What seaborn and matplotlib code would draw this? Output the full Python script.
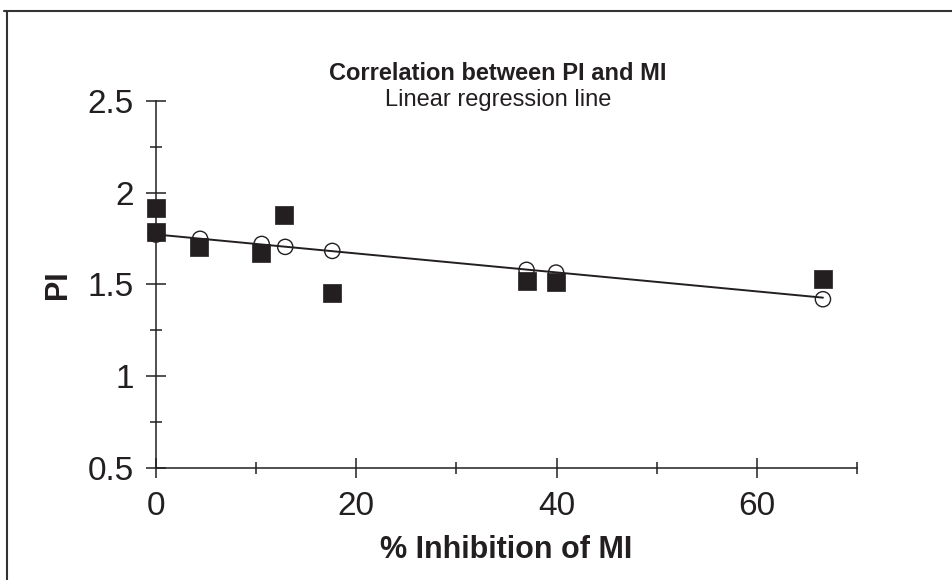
import matplotlib
matplotlib.use("Agg")
import matplotlib.pyplot as plt
from matplotlib.ticker import MultipleLocator
from matplotlib.lines import Line2D
import seaborn as sns
import pandas as pd

# Observed values (filled squares)
inhibition = [0.0, 0.0, 4.3, 10.5, 12.8, 17.6, 37.0, 39.95, 66.6]
pi_observed = [1.915, 1.787, 1.702, 1.670, 1.878, 1.455, 1.520, 1.512, 1.530]

# Fitted values on regression line (open circles)
inhibition_fit = [0.0, 4.4, 10.55, 12.9, 17.6, 37.0, 39.95, 66.6]
pi_fitted = [1.771, 1.748, 1.720, 1.704, 1.682, 1.579, 1.564, 1.419]

x_ticks = [0, 20, 40, 60]
y_ticks = [0.5, 1, 1.5, 2, 2.5]
y_tick_labels = ["0.5", "1", "1.5", "2", "2.5"]

title = "Correlation between PI and MI"
subtitle = "Linear regression line"
x_label = "% Inhibition of MI"
y_label = "PI"

sns.set_style("ticks")
plt.rcParams["font.family"] = ["Liberation Sans", "DejaVu Sans"]

obs = pd.DataFrame({"x": inhibition, "y": pi_observed})
fit = pd.DataFrame({"x": inhibition_fit, "y": pi_fitted})

fig = plt.figure(figsize=(9.52, 5.8), dpi=100)
ax = fig.add_axes([0.1639, 0.1931, 0.9002 - 0.1639, 0.8264 - 0.1931])

dark = "#231f20"
sns.regplot(data=obs, x="x", y="y", ax=ax, scatter=False, ci=None,
            line_kws=dict(color=dark, lw=1.4, zorder=2))
sns.scatterplot(data=fit, x="x", y="y", ax=ax, marker="o", s=120,
                facecolor="none", edgecolor=dark, linewidth=1.0, zorder=3,
                clip_on=False)
sns.scatterplot(data=obs, x="x", y="y", ax=ax, marker="s", s=150,
                color=dark, edgecolor=dark, linewidth=0.5, zorder=4,
                clip_on=False)

ax.set_xlim(0, 70)
ax.set_ylim(0.5, 2.5)
ax.set_xticks(x_ticks)
ax.set_yticks(y_ticks)
ax.set_yticklabels(y_tick_labels)
ax.xaxis.set_minor_locator(MultipleLocator(10))
ax.yaxis.set_minor_locator(MultipleLocator(0.25))
ax.tick_params(which="major", direction="inout", length=14.4, width=1.1,
               labelsize=24, pad=9, color=dark, labelcolor=dark)
ax.tick_params(which="minor", direction="inout", length=9, width=1.1, color=dark)
for side in ["top", "right"]:
    ax.spines[side].set_visible(False)
for side in ["left", "bottom"]:
    ax.spines[side].set_linewidth(1.1)
    ax.spines[side].set_color(dark)
ax.set_xlabel("")
ax.set_ylabel("")

fig.text(0.523, 0.874, title, ha="center", va="center", fontsize=17,
         fontweight="bold", color=dark)
fig.text(0.523, 0.828, subtitle, ha="center", va="center", fontsize=17,
         color=dark)
fig.text(0.532, 0.052, x_label, ha="center", va="center", fontsize=22,
         fontweight="bold", color=dark)
fig.text(0.061, 0.509, y_label, ha="center", va="center", fontsize=22,
         fontweight="bold", rotation=90, color=dark)

fig.add_artist(Line2D([0.004, 1.0], [0.981, 0.981], transform=fig.transFigure,
                      color="#333333", lw=1.5))
fig.add_artist(Line2D([0.0074, 0.0074], [0.0, 0.981], transform=fig.transFigure,
                      color="#333333", lw=1.5))

fig.savefig("out.png", dpi=100)
